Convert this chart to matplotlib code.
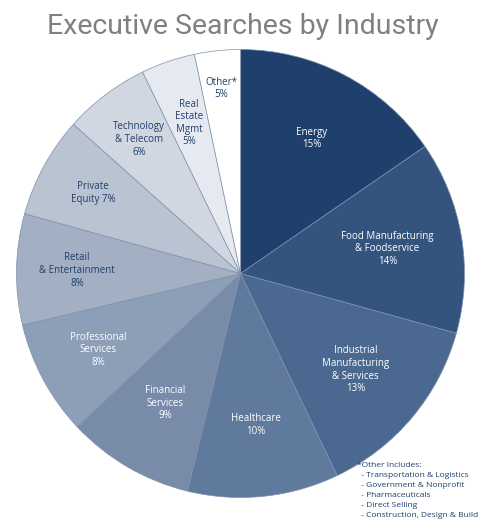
import numpy as np
import matplotlib
matplotlib.use('Agg')
import matplotlib.pyplot as plt

# slice sizes measured from the wedge angles; labels carry the rounded figures
industries = ['Energy', 'Food Manufacturing\n& Foodservice', 'Industrial\nManufacturing\n& Services',
              'Healthcare', 'Financial\nServices', 'Professional\nServices', 'Retail\n& Entertainment',
              'Private\nEquity 7%', 'Technology\n& Telecom', 'Real\nEstate\nMgmt', 'Other*']
shares = [15.4, 13.9, 13.6, 10.9, 9.2, 8.3, 8.0, 7.3, 6.2, 3.9, 3.3]
pct_labels = ['15%', '14%', '13%', '10%', '9%', '8%', '8%', '', '6%', '5%', '5%']
other_items = ['Transportation & Logistics', 'Government & Nonprofit', 'Pharmaceuticals',
               'Direct Selling', 'Construction, Design & Build']

colors = ['#1f3f6d', '#34547e', '#4b6890', '#5f7a9c', '#788ba8', '#8d9eb7',
          '#a3b0c4', '#b9c3d2', '#d1d7e1', '#e6eaf0', '#ffffff']
text_colors = ['white'] * 6 + ['#1f3f6d'] * 5
label_dist = [0.68, 0.665, 0.67, 0.68, 0.67, 0.72, 0.73, 0.75, 0.75, 0.71, 0.83]

W, H = 483, 531
fig = plt.figure(figsize=(W / 100, H / 100), dpi=100)
fig.patch.set_facecolor('white')

cx, cy, r = 240.5, 273.5, 224
ax = fig.add_axes([(cx - r) / W, (H - cy - r) / H, 2 * r / W, 2 * r / H])
wedges, _ = ax.pie(shares, colors=colors, startangle=90, counterclock=False, radius=1,
                   wedgeprops=dict(edgecolor='#7e90ab', linewidth=0.5))
ax.set_xlim(-1, 1)
ax.set_ylim(-1, 1)
ax.axis('off')

font = ['Open Sans', 'DejaVu Sans']
for w, name, pct, tc, d in zip(wedges, industries, pct_labels, text_colors, label_dist):
    mid = np.deg2rad((w.theta1 + w.theta2) / 2)
    txt = name + ('\n' + pct if pct else '')
    ax.text(d * np.cos(mid), d * np.sin(mid), txt, ha='center', va='center',
            color=tc, fontsize=7.0, family=font, linespacing=1.2)

fig.text(243 / W, 1 - 27 / H, 'Executive Searches by Industry', ha='center', va='center',
         color='#808080', fontsize=20.5, family=['Roboto', 'DejaVu Sans'])

note = '*Other Includes:\n' + '\n'.join('  - ' + s for s in other_items)
fig.text(357 / W, 1 - 462 / H, note, ha='left', va='top', color='#1f3f6d',
         fontsize=6.0, family=font, linespacing=1.6)

fig.savefig('out.png', dpi=100)
